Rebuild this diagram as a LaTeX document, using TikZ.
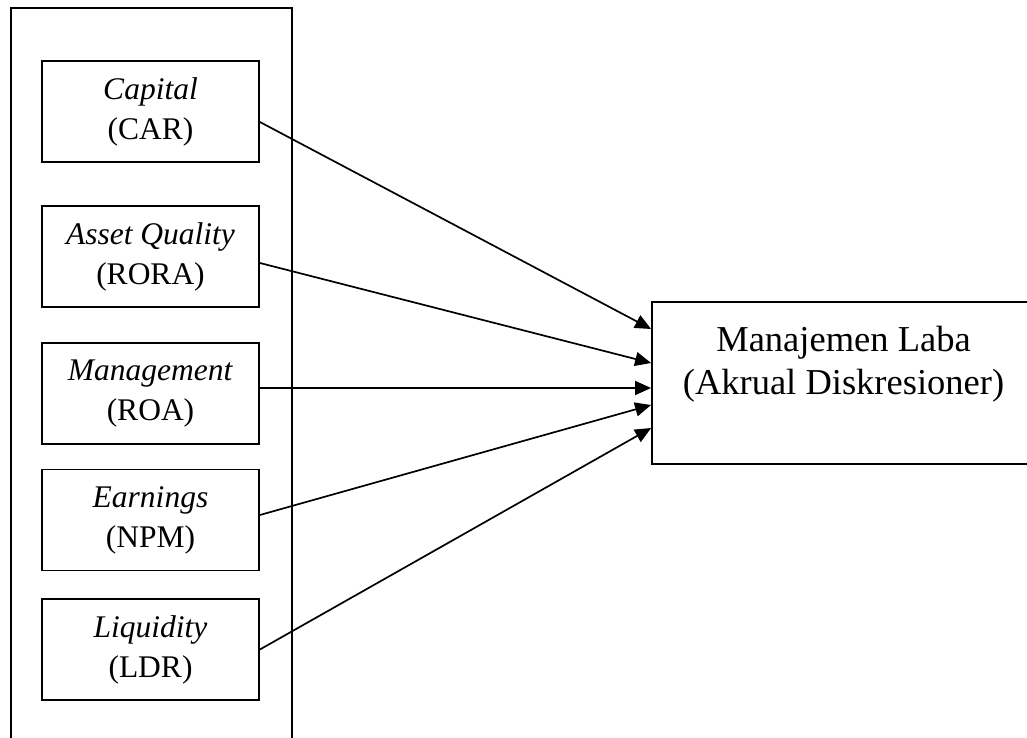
\documentclass[tikz,border=0pt]{standalone}
\usepackage{fontspec}
\setmainfont{Liberation Serif}
\usetikzlibrary{arrows.meta,calc}
\begin{document}
\begin{tikzpicture}[x=1pt,y=-1pt,
  ind/.style={draw,line width=1.8pt,minimum width=217pt,minimum height=101pt,inner sep=0pt,
    align=center,font=\fontsize{31.5}{40}\selectfont},
  dvbox/.style={draw,line width=1.8pt,minimum width=390pt,minimum height=162pt,inner sep=0pt},
  arr/.style={line width=1.7pt,-{Triangle[length=16pt,width=14pt]}}]
\useasboundingbox (0,0) rectangle (1027,738);
\draw[line width=1.8pt] (11,745) -- (11,8) -- (292,8) -- (292,745);
\node[ind] (cap) at (150.5,111.5) {\textit{Capital}\\(CAR)};
\node[ind] (aq) at (150.5,256.5) {\textit{Asset Quality}\\(RORA)};
\node[ind] (man) at (150.5,393.5) {\textit{Management}\\(ROA)};
\node[ind] (ear) at (150.5,520) {\textit{Earnings}\\(NPM)};
\node[ind] (liq) at (150.5,649.5) {\textit{Liquidity}\\(LDR)};
\node[dvbox] (dv) at (847,383) {};
\node[align=center,font=\fontsize{36.5}{43}\selectfont,inner sep=0pt] (dvt) at (843.5,364) {Manajemen Laba\\(Akrual Diskresioner)};
\draw[arr] ($(cap.east)+(0,10.5)$) -- ($(dv.west)+(0,-54)$);
\draw[arr] ($(aq.east)+(0,6.5)$) -- ($(dv.west)+(0,-20)$);
\draw[arr] ($(man.east)+(0,-5.5)$) -- ($(dv.west)+(0,5)$);
\draw[arr] ($(ear.east)+(0,-5)$) -- ($(dv.west)+(0,22)$);
\draw[arr] ($(liq.east)+(0,0)$) -- ($(dv.west)+(0,45)$);
\end{tikzpicture}
\end{document}
